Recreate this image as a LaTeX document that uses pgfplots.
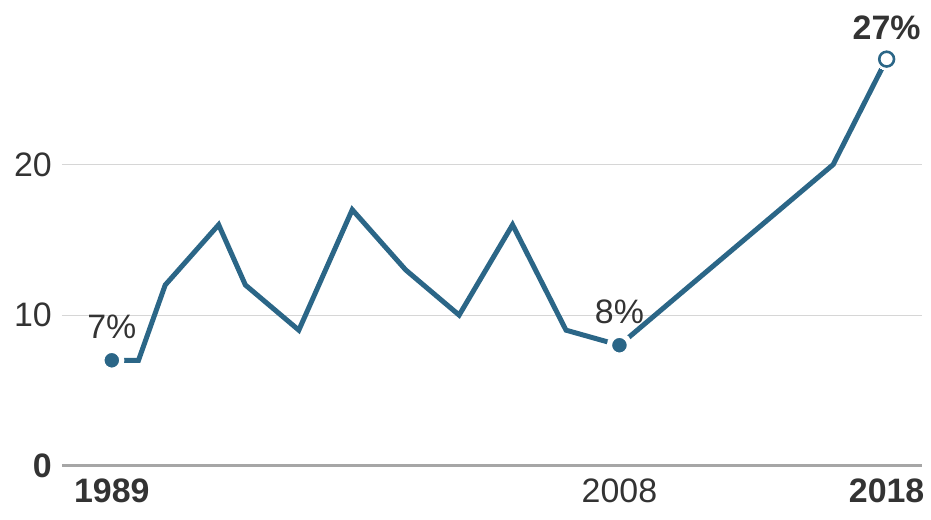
\documentclass[border=0pt]{standalone}
\usepackage{fontspec}
\setmainfont{Liberation Sans}
\usepackage{pgfplots}
\pgfplotsset{compat=1.18}
\definecolor{lineblue}{HTML}{2B6687}
\definecolor{gridgray}{HTML}{D6D6D6}
\definecolor{basegray}{HTML}{A6A6A6}
\definecolor{txt}{HTML}{333333}

\begin{document}
\begin{tikzpicture}
\begin{axis}[
  scale only axis,
  width=431.5pt, height=226.5pt,
  xmin=1987.13, xmax=2019.34,
  ymin=0, ymax=30,
  axis lines*=left,
  x axis line style={draw=basegray, line width=1.5pt, -},
  y axis line style={draw=none},
  xtick={1989,2008,2018},
  xticklabels={\textbf{1989},2008,\textbf{2018}},
  ytick={0,10,20},
  yticklabels={\textbf{0},10,20},
  ymajorgrids,
  grid style={gridgray, line width=0.6pt},
  major tick length=0pt,
  tick label style={font=\fontsize{17}{20}\selectfont, text=txt},
  /pgf/number format/assume math mode=true,
  xticklabel style={yshift=-3pt},
  yticklabel style={xshift=-1.5pt},
  clip=false,
]
% share of respondents, by year
\addplot[lineblue, line width=2.5pt, line join=miter] coordinates {
  (1989,7) (1990,7) (1991,12) (1993,16) (1994,12) (1996,9)
  (1998,17) (2000,13) (2002,10) (2004,16) (2006,9) (2008,8)
  (2016,20) (2018,27)
};
% filled end points with white halo
\addplot[only marks, mark=*, mark size=5pt, draw=white,
  mark options={fill=lineblue, draw=white, line width=2.6pt}]
  coordinates {(1989,7) (2008,8)};
% open last point
\addplot[only marks, mark=*, mark size=5.4pt, draw=white, fill=white,
  mark options={fill=white, draw=white, line width=0pt}]
  coordinates {(2018,27)};
\addplot[only marks, mark=*, mark size=3.7pt, draw=lineblue,
  mark options={fill=white, draw=lineblue, line width=1.3pt}]
  coordinates {(2018,27)};

\node[font=\fontsize{17}{20}\selectfont, text=txt] at (axis cs:1989,9.2) {7\%};
\node[font=\fontsize{17}{20}\selectfont, text=txt] at (axis cs:2008,10.2) {8\%};
\node[font=\fontsize{17}{20}\selectfont\bfseries, text=txt] at (axis cs:2018,29.1) {27\%};
\end{axis}
\path ([shift={(-31pt,-27pt)}]current axis.south west) rectangle ([shift={(3pt,7pt)}]current axis.north east);
\end{tikzpicture}
\end{document}
